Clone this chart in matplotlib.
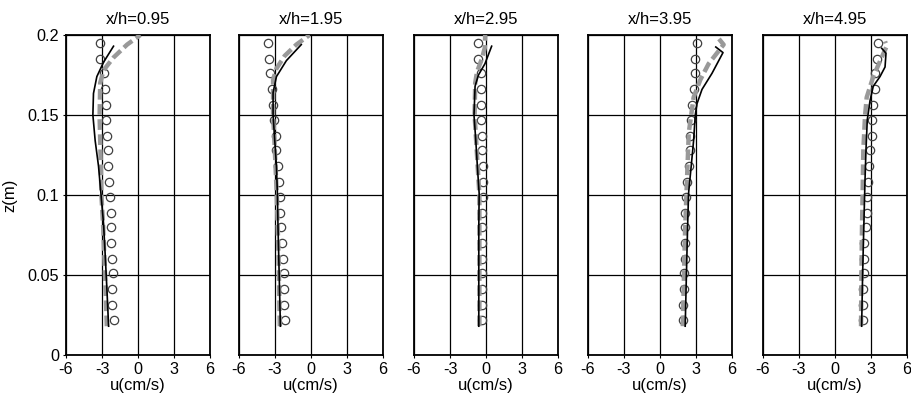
import numpy as np
import matplotlib
matplotlib.use("Agg")
import matplotlib.pyplot as plt

plt.rcParams['font.family'] = ['Liberation Sans', 'DejaVu Sans']
plt.rcParams['axes.unicode_minus'] = False

# stations (x/h)
titles = ['x/h=0.95', 'x/h=1.95', 'x/h=2.95', 'x/h=3.95', 'x/h=4.95']

# measured points (circles), same heights for every station
z_meas = [0.022, 0.031, 0.041, 0.051, 0.060, 0.070, 0.080, 0.089, 0.099, 0.108,
          0.118, 0.128, 0.137, 0.147, 0.156, 0.166, 0.176, 0.185, 0.195]
u_meas_1 = [-2.03, -2.17, -2.17, -2.11, -2.17, -2.22, -2.25, -2.25, -2.31, -2.42,
            -2.50, -2.50, -2.59, -2.64, -2.64, -2.73, -2.87, -3.15, -3.15]
u_meas_2 = [-2.19, -2.25, -2.27, -2.27, -2.33, -2.42, -2.47, -2.55, -2.58, -2.66,
            -2.75, -2.88, -2.88, -3.08, -3.16, -3.29, -3.43, -3.49, -3.57]
u_meas_3 = [-0.36, -0.34, -0.36, -0.34, -0.36, -0.32, -0.34, -0.36, -0.28, -0.21,
            -0.26, -0.34, -0.34, -0.43, -0.43, -0.43, -0.43, -0.63, -0.63]
u_meas_4 = [1.88, 1.91, 1.96, 2.02, 2.05, 2.10, 2.10, 2.10, 2.19, 2.24,
            2.38, 2.46, 2.52, 2.60, 2.66, 2.80, 2.90, 2.95, 3.10]
u_meas_5 = [2.36, 2.36, 2.36, 2.44, 2.44, 2.44, 2.58, 2.64, 2.64, 2.72,
            2.86, 2.92, 3.06, 3.11, 3.19, 3.33, 3.33, 3.47, 3.61]

# model 1 (black solid)
z_m1_1 = [0.018, 0.041, 0.062, 0.082, 0.101, 0.118, 0.134, 0.150, 0.1635, 0.174, 0.183, 0.193]
u_m1_1 = [-2.45, -2.59, -2.73, -2.87, -3.09, -3.29, -3.57, -3.76, -3.71, -3.43, -2.87, -2.04]
z_m1_2 = [0.018, 0.050, 0.080, 0.101, 0.118, 0.134, 0.150, 0.164, 0.174, 0.184, 0.194]
u_m1_2 = [-2.55, -2.65, -2.75, -2.80, -2.88, -3.02, -3.16, -3.16, -2.88, -2.05, -0.81]
z_m1_3 = [0.018, 0.050, 0.080, 0.101, 0.118, 0.134, 0.150, 0.168, 0.175, 0.182, 0.193]
u_m1_3 = [-0.60, -0.60, -0.60, -0.57, -0.72, -0.85, -1.00, -0.91, -0.63, -0.09, 0.47]
z_m1_4 = [0.018, 0.050, 0.080, 0.101, 0.118, 0.134, 0.150, 0.157, 0.166, 0.176, 0.189, 0.1925]
u_m1_4 = [2.10, 2.20, 2.30, 2.38, 2.60, 2.80, 2.94, 3.08, 3.50, 4.33, 5.25, 4.65]
z_m1_5 = [0.018, 0.050, 0.080, 0.109, 0.128, 0.147, 0.159, 0.168, 0.174, 0.180, 0.1886, 0.1917]
u_m1_5 = [2.22, 2.30, 2.40, 2.50, 2.58, 2.69, 2.92, 3.19, 3.75, 4.17, 4.25, 3.89]

# model 2 (grey dashed)
z_m2_1 = [0.018, 0.040, 0.060, 0.080, 0.100, 0.118, 0.134, 0.149, 0.170, 0.178, 0.186, 0.194, 0.200]
u_m2_1 = [-2.60, -2.70, -2.80, -2.90, -3.05, -3.10, -3.15, -3.20, -3.15, -2.87, -2.03, -0.91, 0.20]
z_m2_2 = [0.018, 0.060, 0.100, 0.134, 0.150, 0.172, 0.179, 0.187, 0.194, 0.200]
u_m2_2 = [-2.60, -2.70, -2.85, -3.05, -3.16, -3.16, -2.88, -2.19, -1.22, -0.12]
z_m2_3 = [0.018, 0.100, 0.150, 0.170, 0.177, 0.185, 0.192, 0.200]
u_m2_3 = [-0.55, -0.55, -0.95, -0.90, -0.75, -0.35, -0.10, -0.07]
z_m2_4 = [0.018, 0.050, 0.080, 0.100, 0.120, 0.139, 0.161, 0.172, 0.182, 0.194, 0.199]
u_m2_4 = [1.90, 2.00, 2.10, 2.20, 2.30, 2.40, 2.80, 3.36, 4.05, 5.30, 4.75]
z_m2_5 = [0.018, 0.050, 0.080, 0.100, 0.128, 0.149, 0.161, 0.174, 0.186, 0.193, 0.196]
u_m2_5 = [2.17, 2.20, 2.25, 2.30, 2.36, 2.50, 2.64, 3.19, 3.89, 4.31, 4.17]

u_meas = [u_meas_1, u_meas_2, u_meas_3, u_meas_4, u_meas_5]
model1 = [(z_m1_1, u_m1_1), (z_m1_2, u_m1_2), (z_m1_3, u_m1_3), (z_m1_4, u_m1_4), (z_m1_5, u_m1_5)]
model2 = [(z_m2_1, u_m2_1), (z_m2_2, u_m2_2), (z_m2_3, u_m2_3), (z_m2_4, u_m2_4), (z_m2_5, u_m2_5)]

x_ticks = [-6, -3, 0, 3, 6]
z_ticks = [0, 0.05, 0.1, 0.15, 0.2]
z_ticklabels = ['0', '0.05', '0.1', '0.15', '0.2']

W, H = 912, 398
fig = plt.figure(figsize=(W / 100, H / 100), dpi=100)

lefts = [66, 239, 414, 588, 763]
for i, left in enumerate(lefts):
    ax = fig.add_axes([left / W, 43 / H, 144 / W, 320 / H])
    ax.plot(u_meas[i], z_meas, 'o', mfc='none', mec='#404040', ms=6, mew=0.9, zorder=3)
    ax.plot(model2[i][1], model2[i][0], color='#999999', lw=3.2, dashes=[2.4, 1.0], zorder=4)
    ax.plot(model1[i][1], model1[i][0], color='black', lw=1.2, zorder=5)

    ax.set_xlim(-6, 6)
    ax.set_ylim(0, 0.2)
    ax.set_xticks(x_ticks)
    ax.set_yticks(z_ticks)
    ax.grid(True, color='black', lw=0.9)
    ax.set_axisbelow(True)
    for s in ax.spines.values():
        s.set_linewidth(1.3)
    ax.tick_params(direction='out', length=2, pad=3, labelsize=11.7, colors='black')
    ax.set_title(titles[i], fontsize=12, pad=8)
    ax.set_xlabel('u(cm/s)', fontsize=12, labelpad=1)
    if i == 0:
        ax.set_yticklabels(z_ticklabels)
        ax.set_ylabel('z(m)', fontsize=12, labelpad=7)
    else:
        ax.tick_params(axis='y', left=False, labelleft=False)

fig.savefig('out.png', dpi=100)
